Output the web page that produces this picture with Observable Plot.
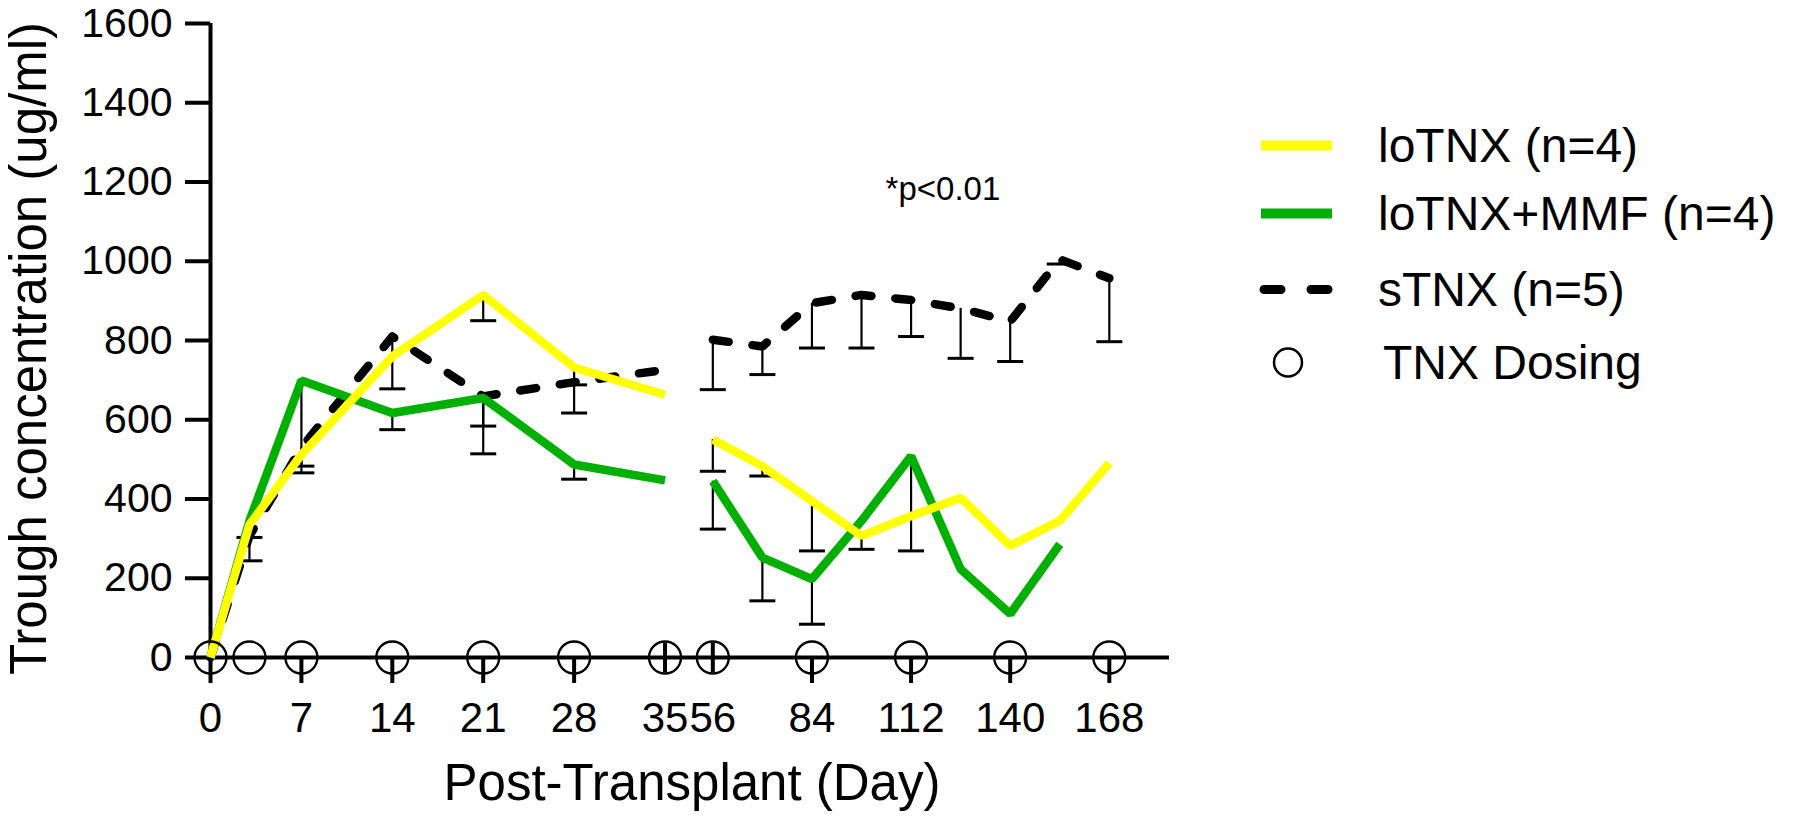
<!DOCTYPE html>
<html><head><meta charset="utf-8">
<script src="https://cdn.jsdelivr.net/npm/d3@7"></script>
<script src="https://cdn.jsdelivr.net/npm/@observablehq/plot@0.6"></script>
<style>
html,body{margin:0;padding:0;background:#fff;}
#wrap{position:relative;width:1800px;height:817px;font-family:"Liberation Sans",Arial,Helvetica,sans-serif;}
#legend{position:absolute;left:0;top:0;}
.row{position:absolute;display:flex;align-items:center;white-space:nowrap;font-size:48px;color:#000;transform:translateY(-50%);}
.row svg{display:block;}
</style></head><body>
<div id="wrap"><div id="chart"></div><div id="legend"></div></div>
<script>
// ---------- data ----------
const days1 = [0, 3, 7, 14, 21, 28, 35];
const days2 = [56, 70, 84, 98, 112, 126, 140, 154, 168];

const loTNX1 = [0, 335, 512, 760, 915, 732, 663];
const loTNX2 = [550, 483, 395, 307, 357, 403, 282, 345, 491];
const mmf1   = [0, 345, 699, 617, 655, 487, 447];
const mmf2   = [445, 252, 198, 345, 508, 223, 110, 286, null];
const sTNX1  = [0, 307, 530, 810, 659, 695, 726];
const sTNX2  = [802, 785, 894, 915, 902, 881, 848, 1005, 957];

// lower ends of error bars (null = none drawn)
const loTNXLow1 = [null, 303, null, null, 850, 688, null];
const loTNXLow2 = [470, 458, 269, 273, null, null, null, null, null];
const mmfLow1   = [null, null, 466, 575, 514, 450, null];
const mmfLow2   = [324, 143, 84, null, 269, null, null, null, null];
const sTNXLow1  = [null, 244, 483, 678, 584, 617, null];
const sTNXLow2  = [676, 714, 781, 781, 810, 755, 747, 993, 797];

const dosingDays = [0, 3, 7, 14, 21, 28, 35, 56, 84, 112, 140, 168];
const tickDays = [0, 7, 14, 21, 28, 35, 56, 84, 112, 140, 168];
const breakDays = [35, 56];
const yTicks = [0, 200, 400, 600, 800, 1000, 1200, 1400, 1600];
const axisEndDay = 185;

const seriesNames = ["loTNX (n=4)", "loTNX+MMF (n=4)", "sTNX (n=5)"];
const seriesColors = ["#ffff00", "#00b000", "#000000"];
const pText = "*p<0.01";
const pAt = {day: 121, value: 1180};

// ---------- broken x axis: day -> position ----------
const BREAK_FROM = 35, BREAK_TO = 56, GAP = 3.68, RATIO = 0.2726;
const pos = d => d <= BREAK_FROM ? d : BREAK_FROM + GAP + (d - BREAK_TO) * RATIO;

function rows(series, days, vals, lows, seg) {
  return days.map((day, i) => ({series, day, value: vals[i], low: lows[i], seg}))
             .filter(r => r.value != null);
}
const data = [
  ...rows(seriesNames[0], days1, loTNX1, loTNXLow1, 1), ...rows(seriesNames[0], days2, loTNX2, loTNXLow2, 2),
  ...rows(seriesNames[1], days1, mmf1, mmfLow1, 1),     ...rows(seriesNames[1], days2, mmf2, mmfLow2, 2),
  ...rows(seriesNames[2], days1, sTNX1, sTNXLow1, 1),   ...rows(seriesNames[2], days2, sTNX2, sTNXLow2, 2)
];
const errs = data.filter(d => d.low != null);
const bySeries = s => data.filter(d => d.series === s);

const hbar = {draw(ctx, size){ const r = Math.sqrt(size / Math.PI); ctx.moveTo(-r, 0); ctx.lineTo(r, 0); }};
const vbar = {draw(ctx, size){ const r = Math.sqrt(size / Math.PI); ctx.moveTo(0, -r); ctx.lineTo(0, r); }};

const labelOf = new Map(tickDays.map(d => [pos(d), String(d)]));
const regularTicks = tickDays.filter(d => !breakDays.includes(d));

const chart = Plot.plot({
  width: 1800, height: 817,
  marginLeft: 210, marginRight: 631, marginTop: 23, marginBottom: 160,
  x: {type: "linear", domain: [0, pos(axisEndDay)], axis: null},
  y: {domain: [0, 1600], axis: null},
  style: {fontFamily: "'Liberation Sans', Arial, Helvetica, sans-serif", fontSize: "42px", background: "white", color: "black", overflow: "visible"},
  marks: [
    Plot.axisY(yTicks, {tickSize: 25, tickPadding: 13, strokeWidth: 4, fontSize: 41, tickFormat: d => String(d), label: null}),
    Plot.axisX(tickDays.map(pos), {tickSize: 0, tickPadding: 45, fontSize: 42, tickFormat: p => labelOf.get(p), label: null}),
    Plot.axisX(regularTicks.map(pos), {tickSize: 26, strokeWidth: 4, tickFormat: () => "", label: null}),
    Plot.ruleX([0], {strokeWidth: 4}),
    Plot.ruleY([0], {strokeWidth: 4}),
    // error bars
    Plot.ruleX(errs, {x: d => pos(d.day), y1: "value", y2: "low", stroke: "black", strokeWidth: 2.2}),
    Plot.dot(errs, {x: d => pos(d.day), y: "low", symbol: hbar, r: 13, stroke: "black", fill: "none", strokeWidth: 3}),
    // series lines
    Plot.line(bySeries(seriesNames[2]), {x: d => pos(d.day), y: "value", z: "seg", stroke: seriesColors[2], strokeWidth: 8.5, strokeDasharray: "16,24", strokeLinecap: "round", strokeLinejoin: "round"}),
    Plot.line(bySeries(seriesNames[1]), {x: d => pos(d.day), y: "value", z: "seg", stroke: seriesColors[1], strokeWidth: 8.5, strokeLinejoin: "miter", strokeLinecap: "butt"}),
    Plot.line(bySeries(seriesNames[0]), {x: d => pos(d.day), y: "value", z: "seg", stroke: seriesColors[0], strokeWidth: 8.5, strokeLinejoin: "miter", strokeLinecap: "butt"}),
    // dosing circles and axis-break marks
    Plot.dot(dosingDays, {x: pos, y: () => 0, r: 16, stroke: "black", fill: "none", strokeWidth: 2.3}),
    Plot.dot(breakDays, {x: pos, y: () => 0, symbol: vbar, r: 15, stroke: "black", fill: "none", strokeWidth: 4}),
    // annotation and titles
    Plot.text([pText], {x: () => pos(pAt.day), y: () => pAt.value, fontSize: 33}),
    Plot.text(["Trough concentration (ug/ml)"], {frameAnchor: "left", textAnchor: "middle", rotate: -90, dx: -181, dy: 8, fontSize: 51}),
    Plot.text(["Post-Transplant (Day)"], {frameAnchor: "bottom", textAnchor: "middle", dx: 2, dy: 142, fontSize: 51})
  ]
});
document.getElementById("chart").appendChild(chart);

// ---------- legend ----------
const legend = document.getElementById("legend");
const legendRows = [
  {label: seriesNames[0], kind: "line", color: seriesColors[0], y: 145},
  {label: seriesNames[1], kind: "line", color: seriesColors[1], y: 213},
  {label: seriesNames[2], kind: "dash", color: seriesColors[2], y: 289},
  {label: "TNX Dosing", kind: "circle", color: "#000", y: 362}
];
for (const r of legendRows) {
  const div = document.createElement("div");
  div.className = "row";
  div.style.top = r.y + "px";
  div.style.left = "1258px";
  let sw;
  if (r.kind === "line") sw = `<svg width="120" height="20"><line x1="3" x2="74" y1="10" y2="10" stroke="${r.color}" stroke-width="10"/></svg>`;
  else if (r.kind === "dash") sw = `<svg width="120" height="20"><line x1="6" x2="74" y1="10" y2="10" stroke="${r.color}" stroke-width="9" stroke-linecap="round" stroke-dasharray="17,30"/></svg>`;
  else sw = `<svg width="125" height="34"><circle cx="30" cy="17" r="14" fill="none" stroke="#000" stroke-width="2.5"/></svg>`;
  div.innerHTML = sw + `<span>${r.label}</span>`;
  legend.appendChild(div);
}
</script>
</body></html>
